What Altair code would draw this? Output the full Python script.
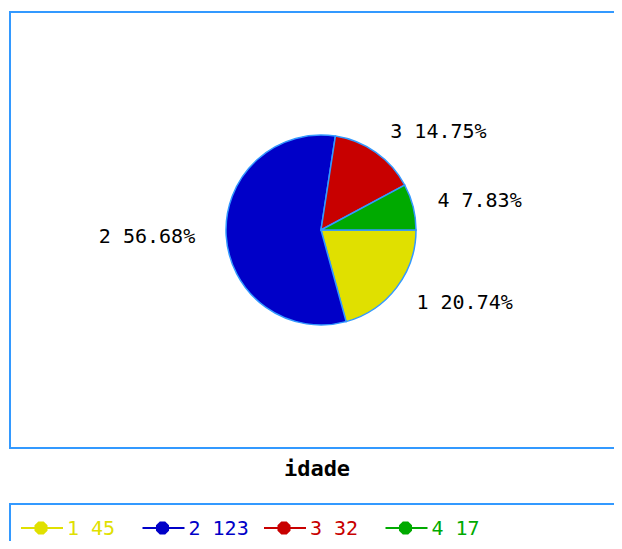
import math
import altair as alt
import pandas as pd

categories = ["1", "2", "3", "4"]
counts = [45, 123, 32, 17]
colors = ["#e0e000", "#0000c8", "#c80000", "#00aa00"]
title_text = "idade"

total = sum(counts)
rows = []
cum = 0
for i, (c, n) in enumerate(zip(categories, counts)):
    start = cum
    end = cum + n
    mid = (start + end) / 2
    cum = end
    ang = mid / total * 2 * math.pi
    rows.append({
        "cat": c,
        "count": n,
        "start": start,
        "end": end,
        "mid": mid,
        "label": f"{c} {n / total * 100:.2f}%",
        "leg": f"{c} {n}",
        "idx": i,
        "side": "right" if math.cos(ang) >= 0 else "left",
    })
df = pd.DataFrame(rows)
one = pd.DataFrame({"a": [0]})

FONT = "DejaVu Sans Mono"
BORDER = "#3399ff"
CX, CY = 313, 222

theta_scale = alt.Scale(domain=[0, total], range=[math.pi / 2, math.pi / 2 + 2 * math.pi])
color = alt.Color("cat:N", scale=alt.Scale(domain=categories, range=colors), legend=None)

frame_top = alt.Chart(one).mark_rect(fill="transparent", stroke=BORDER, strokeWidth=2).encode(
    x=alt.value(2), x2=alt.value(680), y=alt.value(4), y2=alt.value(440)
)
frame_leg = alt.Chart(one).mark_rect(fill="transparent", stroke=BORDER, strokeWidth=2).encode(
    x=alt.value(2), x2=alt.value(680), y=alt.value(496), y2=alt.value(600)
)

base = alt.Chart(df)

arcs = base.mark_arc(x=CX, y=CY, outerRadius=95, stroke=BORDER, strokeWidth=1.5).encode(
    theta=alt.Theta("start:Q", scale=theta_scale, stack=None),
    theta2="end:Q",
    color=color,
)

lab_right = base.transform_filter(alt.datum.side == "right").mark_text(
    x=CX, y=CY, radius=120, align="left", baseline="middle", font=FONT, fontSize=20, color="#000000"
).encode(theta=alt.Theta("mid:Q", scale=theta_scale, stack=None), text="label:N")

lab_left = base.transform_filter(alt.datum.side == "left").mark_text(
    x=CX, y=CY, radius=120, dx=-6, align="right", baseline="middle", font=FONT, fontSize=20, color="#000000"
).encode(theta=alt.Theta("mid:Q", scale=theta_scale, stack=None), text="label:N")

title = alt.Chart(one).mark_text(
    align="center", baseline="alphabetic", font=FONT, fontSize=22, fontWeight="bold", color="#000000"
).encode(x=alt.value(309), y=alt.value(468), text=alt.value(title_text))

legend_x = alt.X("idx:Q", scale=alt.Scale(domain=[0, 3], range=[13, 377.5]), axis=None)
octagon = "M-0.41,-1L0.41,-1L1,-0.41L1,0.41L0.41,1L-0.41,1L-1,0.41L-1,-0.41Z"

leg_lines = base.mark_rule(strokeWidth=2, x2Offset=42).encode(
    x=legend_x, x2=alt.X2("idx:Q"), y=alt.value(520), color=color
)
leg_pts = base.mark_point(shape=octagon, filled=True, opacity=1, size=170, xOffset=20).encode(
    x=legend_x, y=alt.value(520), color=color
)
leg_txt = base.mark_text(align="left", baseline="middle", dx=46, font=FONT, fontSize=20).encode(
    x=legend_x, y=alt.value(521), text="leg:N", color=color
)

chart = alt.layer(
    frame_top, frame_leg, arcs, lab_right, lab_left, title, leg_lines, leg_pts, leg_txt
).properties(
    width=606, height=533, padding=0, autosize=alt.AutoSizeParams(type="none"), background="#ffffff"
).configure_view(stroke=None)

chart.save("out.html", embed_options={"renderer": "svg", "actions": False})
